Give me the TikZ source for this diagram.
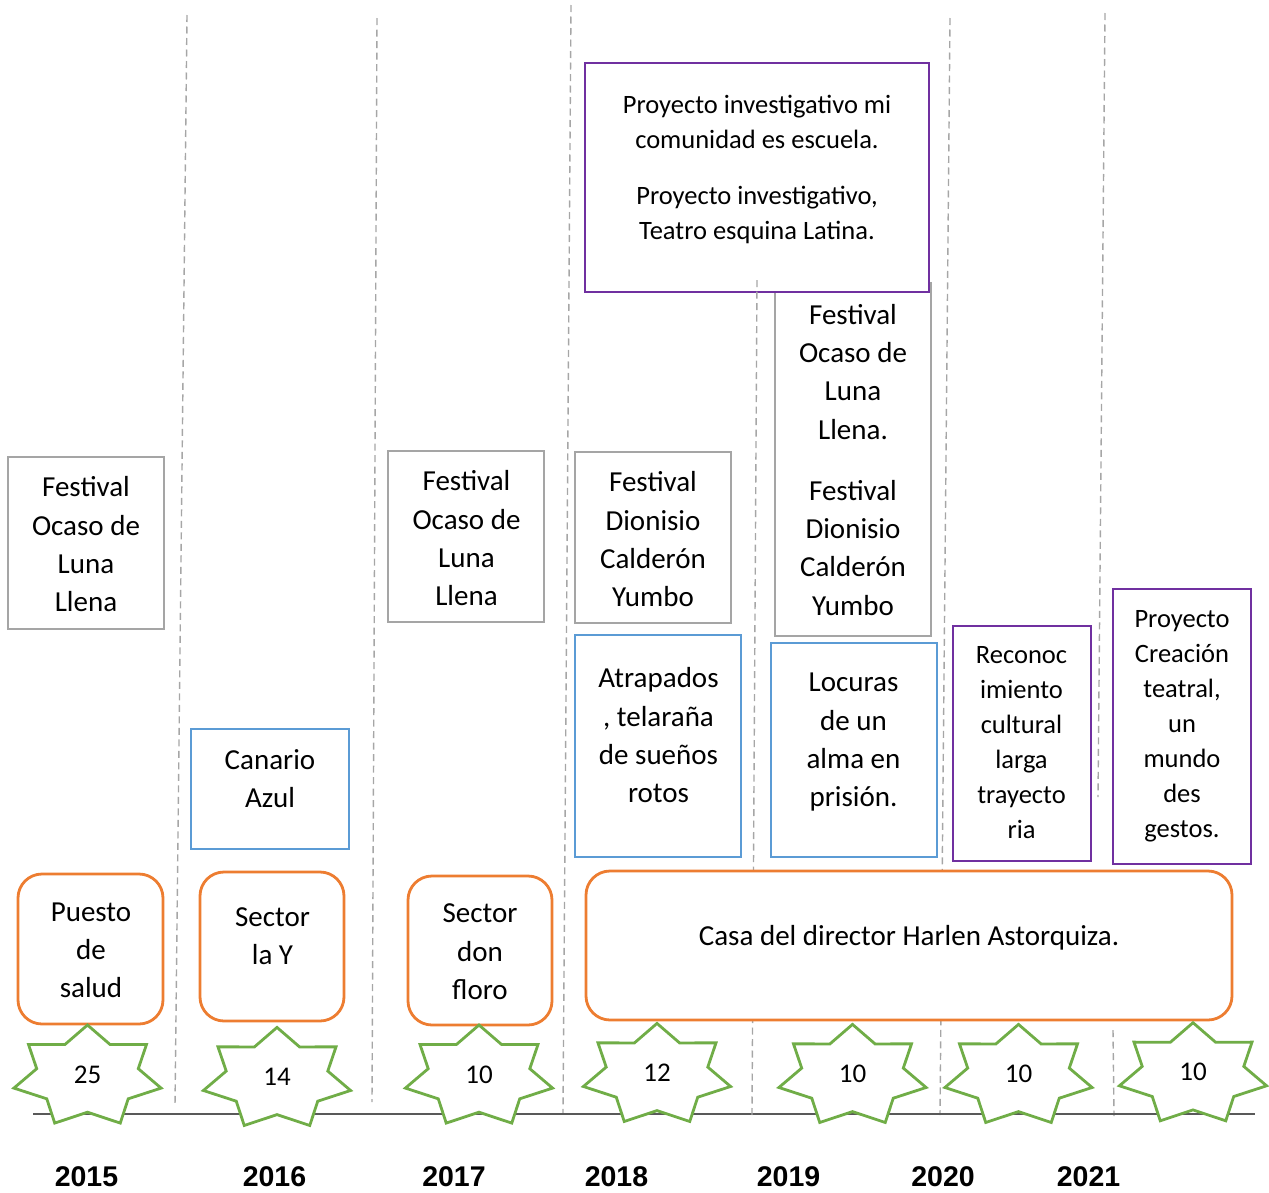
\documentclass[tikz,border=0pt]{standalone}
\usepackage{fontspec}
\setmainfont{Carlito}
\newfontfamily\yearfont{Liberation Sans}
\definecolor{cgray}{HTML}{A5A5A5}
\definecolor{cblue}{HTML}{5B9BD5}
\definecolor{cpurple}{HTML}{7030A0}
\definecolor{corange}{HTML}{ED7D31}
\definecolor{cgreen}{HTML}{70AD47}
\definecolor{cdash}{HTML}{A6A6A6}
\definecolor{caxis}{HTML}{595959}
\newcommand\mkbox[6]{%
  \node[#1, minimum width={#5-#3}, minimum height={#6-#4}] (#2) at ({(#3+#5)/2},{(#4+#6)/2}) {};}
\newcommand\sevenstar[4]{%
  \draw[starline] plot[samples at={0,...,13}, variable=\k]
    ({#2+75.5*(mod(\k,2)==0?1:0.69)*cos(90+\k*360/14)},
     {#3-51.6*(mod(\k,2)==0?1:0.69)*sin(90+\k*360/14)}) -- cycle;
  \node[numtxt] (#1) at (#2,#3-2.5) {\strut #4};}
\begin{document}
\begin{tikzpicture}[x=1pt,y=-1pt,
  vdash/.style={draw=cdash, line width=1.4pt, dash pattern=on 7pt off 4.5pt},
  axisline/.style={draw=caxis, line width=1.5pt},
  basebox/.style={draw, line width=2.8pt, fill=white, inner sep=0pt, rectangle},
  graybox/.style={basebox, draw=cgray},
  bluebox/.style={basebox, draw=cblue},
  purplebox/.style={basebox, draw=cpurple},
  orangebox/.style={basebox, draw=corange, rounded corners=24pt},
  starline/.style={draw=cgreen, line width=2.8pt, fill=white, line join=miter},
  txt/.style={align=center, inner sep=0pt, yshift=-2.5pt, font=\fontsize{29}{38.3}\selectfont},
  txts/.style={align=center, inner sep=0pt, yshift=-2pt, font=\fontsize{26.5}{35}\selectfont},
  numtxt/.style={inner sep=0pt, yshift=-2pt, font=\fontsize{27}{35}\selectfont},
  yeartxt/.style={inner sep=0pt, font=\yearfont\bfseries\fontsize{28.5}{34}\selectfont}]
\useasboundingbox (0,0) rectangle (1269,1192);

% dashed separators
\coordinate (d1a) at (187,15);   \coordinate (d1b) at (175,1106);
\coordinate (d2a) at (377,18);   \coordinate (d2b) at (372,1102);
\coordinate (d3a) at (571,5);    \coordinate (d3b) at (563,1113);
\coordinate (d4a) at (757,280);  \coordinate (d4b) at (752,1115);
\coordinate (d5a) at (950,18);   \coordinate (d5b) at (940,1115);
\coordinate (d6a) at (1105,13);  \coordinate (d6b) at (1098,797);
\coordinate (d7a) at (1113,1030);\coordinate (d7b) at (1114,1116);
\draw[vdash] (d1a) -- (d1b);
\draw[vdash] (d2a) -- (d2b);
\draw[vdash] (d3a) -- (d3b);
\draw[vdash] (d5a) -- (d5b);
\draw[vdash] (d6a) -- (d6b);
\draw[vdash] (d7a) -- (d7b);

% axis
\coordinate (ax1) at (33,1114); \coordinate (ax2) at (1255,1114);
\draw[axisline] (ax1) -- (ax2);

% gray boxes
\mkbox{graybox}{g1}{8}{457}{164}{629}
\mkbox{graybox}{g2}{388}{451}{544}{622}
\mkbox{graybox}{g3}{575}{452}{731}{623}
\mkbox{graybox}{g4}{775}{283}{931}{636}
% purple top box
\mkbox{purplebox}{p1}{585}{63}{929}{292}
% blue boxes
\mkbox{bluebox}{b1}{191}{729}{349}{849}
\mkbox{bluebox}{b2}{575}{635}{741}{857}
\mkbox{bluebox}{b3}{771}{643}{937}{857}
% purple boxes
\mkbox{purplebox}{p2}{953}{626}{1091}{861}
\mkbox{purplebox}{p3}{1113}{589}{1251}{864}

\draw[vdash] (d4a) -- (d4b);

% orange boxes
\mkbox{orangebox}{o1}{18}{874}{163}{1024}
\mkbox{orangebox}{o2}{200}{872}{344}{1021}
\mkbox{orangebox}{o3}{408}{876}{552}{1025}
\mkbox{orangebox}{o4}{586}{871}{1232}{1020}

% texts
\node[txt] (tg1) at (86,544) {\strut Festival\\Ocaso de\\Luna\\Llena\strut};
\node[txt] (tg2) at (466.5,538) {\strut Festival\\Ocaso de\\Luna\\Llena\strut};
\node[txt] (tg3) at (653,539) {\strut Festival\\Dionisio\\Calderón\\Yumbo\strut};
\node[txt] (tg4) at (853,459.5) {\strut Festival\\Ocaso de\\Luna\\Llena.\\[22.7pt]Festival\\Dionisio\\Calderón\\Yumbo\strut};
\node[txts] (tp1) at (757,167) {\strut Proyecto investigativo mi\\comunidad es escuela.\\[21pt]Proyecto investigativo,\\Teatro esquina Latina.\strut};
\node[txt] (tb1) at (270,778) {\strut Canario\\Azul\strut};
\node[txt] (tb2) at (658.5,735) {\strut Atrapados\\, telaraña\\de sueños\\rotos\strut};
\node[txt] (tb3) at (853.5,739) {\strut Locuras\\de un\\alma en\\prisión.\strut};
\node[txts] (tp2) at (1021.5,741.5) {\strut Reconoc\\imiento\\cultural\\larga\\trayecto\\ria\strut};
\node[txts] (tp3) at (1182,723.5) {\strut Proyecto\\Creación\\teatral,\\un\\mundo\\des\\gestos.\strut};
\node[txt] (to1) at (91,949.5) {\strut Puesto\\de\\salud\strut};
\node[txt] (to2) at (272.5,935.5) {\strut Sector\\la Y\strut};
\node[txt] (to3) at (480,951) {\strut Sector\\don\\floro\strut};
\node[txt] (to4) at (909,935) {\strut Casa del director Harlen Astorquiza.\strut};

% stars
\sevenstar{s1}{87.5}{1076.6}{25}
\sevenstar{s2}{277}{1079}{14}
\sevenstar{s3}{479}{1076.6}{10}
\sevenstar{s4}{657}{1075}{12}
\sevenstar{s5}{852.5}{1076}{10}
\sevenstar{s6}{1018.5}{1076}{10}
\sevenstar{s7}{1193}{1074.3}{10}

% years
\node[yeartxt] (y1) at (86.5,1177) {2015};
\node[yeartxt] (y2) at (274.5,1177) {2016};
\node[yeartxt] (y3) at (454,1177) {2017};
\node[yeartxt] (y4) at (616.5,1177) {2018};
\node[yeartxt] (y5) at (788.5,1177) {2019};
\node[yeartxt] (y6) at (943,1177) {2020};
\node[yeartxt] (y7) at (1088.5,1177) {2021};
\end{tikzpicture}
\end{document}
